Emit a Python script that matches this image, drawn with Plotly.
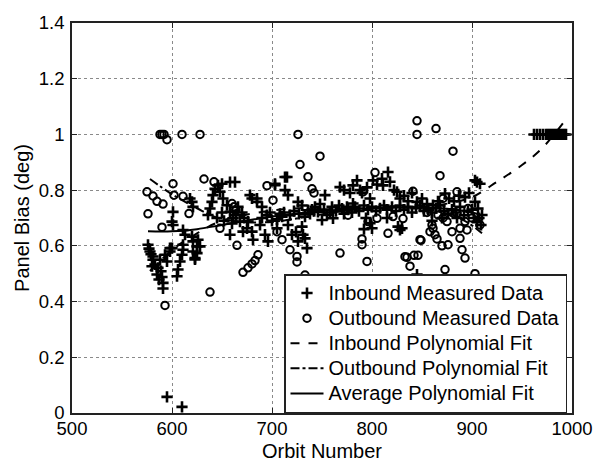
import plotly.graph_objects as go

# ---------------- data ----------------
in_x = [576, 577, 578, 579, 580, 581, 581, 583, 585, 586, 587, 588, 589, 590, 591, 591, 593, 595, 598, 598, 600,
        595, 610,
        600, 601, 601,
        605, 606, 608, 610, 611, 611, 611, 613,
        620, 621, 621, 623, 623, 625, 625, 626, 628,
        620, 621, 618,
        636, 638, 640, 641, 643, 646, 648, 651, 655, 663, 658, 661, 668, 671, 675, 658, 645, 650, 652, 660, 664, 666, 670, 672,
        650, 658,
        678, 685, 685, 703, 715, 713, 716, 726, 730, 753, 768, 772, 778,
        676, 680, 681, 688, 693, 696, 705, 710, 716, 720, 724, 726, 730, 733, 735, 731, 736, 743, 746, 750, 755, 761, 770, 775, 781,
        690, 695, 700, 698, 705, 708, 712, 718, 722, 727, 733, 738, 740, 748, 752, 758, 760, 764, 767, 772, 776, 780,
        680, 690, 713, 703,
        785, 781, 788, 790, 795, 798, 801, 805, 810, 811, 816, 818, 822, 825, 828, 832, 836, 840, 845, 850, 855, 861, 866, 873,
        877, 882, 887, 893, 897, 903, 905, 908,
        783, 787, 792, 796, 800, 804, 808, 812, 815, 820, 824, 828, 832, 836, 840, 844, 848, 852, 856, 860, 864, 868, 872, 876,
        880, 884, 888, 892, 896, 900, 903, 906, 910, 905, 907, 909, 902,
        798, 800, 826, 828, 830, 845, 792, 794, 815, 870, 885, 860,
        962, 965, 968, 971, 974, 976, 978, 980, 982, 984, 986, 988, 990, 992, 994]
in_y = [0.604, 0.59, 0.58, 0.57, 0.527, 0.562, 0.55, 0.533, 0.497, 0.521, 0.479, 0.55, 0.509, 0.488, 0.467, 0.447, 0.568, 0.544, 0.58, 0.592, 0.592,
        0.058, 0.022,
        0.687, 0.722, 0.675,
        0.491, 0.515, 0.544, 0.568, 0.586, 0.604, 0.657, 0.64,
        0.633, 0.616, 0.58, 0.556, 0.551, 0.574, 0.598, 0.622, 0.598,
        0.758, 0.74, 0.77,
        0.711, 0.734, 0.758, 0.782, 0.805, 0.817, 0.794, 0.77, 0.746, 0.829, 0.722, 0.699, 0.687, 0.651, 0.663, 0.64, 0.70, 0.72, 0.69, 0.68, 0.71, 0.74, 0.72, 0.70,
        0.823, 0.829,
        0.782, 0.758, 0.77, 0.823, 0.847, 0.80, 0.782, 0.758, 0.745, 0.782, 0.811, 0.80, 0.79,
        0.687, 0.651, 0.622, 0.675, 0.64, 0.616, 0.663, 0.705, 0.675, 0.64, 0.65, 0.616, 0.669, 0.627, 0.592, 0.64, 0.728, 0.74, 0.722, 0.693, 0.711, 0.699, 0.734, 0.74, 0.752,
        0.70, 0.71, 0.69, 0.72, 0.695, 0.715, 0.72, 0.71, 0.725, 0.715, 0.705, 0.715, 0.73, 0.75, 0.73, 0.72, 0.74, 0.725, 0.745, 0.715, 0.73, 0.72,
        0.77, 0.74, 0.847, 0.818,
        0.835, 0.817, 0.80, 0.79, 0.81, 0.77, 0.835, 0.82, 0.841, 0.817, 0.865, 0.83, 0.80, 0.794, 0.77, 0.78, 0.76, 0.79, 0.758, 0.77, 0.75, 0.746, 0.76, 0.788,
        0.77, 0.76, 0.78, 0.775, 0.79, 0.835, 0.829, 0.823,
        0.74, 0.725, 0.745, 0.73, 0.74, 0.725, 0.735, 0.745, 0.73, 0.74, 0.725, 0.745, 0.73, 0.74, 0.72, 0.735, 0.745, 0.725,
        0.73, 0.72, 0.735, 0.745, 0.725, 0.715,
        0.73, 0.72, 0.74, 0.71, 0.725, 0.73, 0.758, 0.734, 0.711, 0.687, 0.70, 0.675, 0.70,
        0.681, 0.663, 0.669, 0.657, 0.663, 0.497, 0.66, 0.70, 0.70, 0.70, 0.70, 0.69,
        1.0, 1.0, 1.0, 1.0, 1.0, 1.0, 1.0, 1.0, 1.0, 1.0, 1.0, 1.0, 1.0, 1.0, 1.0]

out_x = [575, 576, 581, 585, 591, 590, 593, 588, 590, 592, 595, 610, 628, 601, 602, 611, 617, 632, 642, 638,
         665, 671, 676, 680, 683, 686, 660, 662, 664, 648, 695, 701, 705, 710, 718, 725, 725, 733,
         726, 728, 748, 736, 740, 742, 768, 776, 790, 790, 795, 791, 796, 805, 803, 816, 821, 831,
         833, 838, 842, 846, 849, 841, 845, 845, 864, 868, 881, 885, 871, 875, 861, 863, 880, 893,
         895, 908, 870, 876, 888, 888, 890, 893, 873, 903, 858, 865, 866, 860, 885, 848, 835,
         871, 896, 900, 855, 880]
out_y = [0.794, 0.715, 0.779, 0.76, 0.75, 0.667, 0.386, 1.0, 1.0, 1.0, 0.981, 1.0, 1.0, 0.823, 0.782, 0.778, 0.716, 0.84, 0.83, 0.434,
         0.602, 0.505, 0.521, 0.535, 0.547, 0.568, 0.752, 0.74, 0.728, 0.663, 0.816, 0.764, 0.651, 0.622, 0.586, 0.562, 0.542, 0.495,
         1.0, 0.892, 0.922, 0.848, 0.805, 0.79, 0.574, 0.71, 0.625, 0.604, 0.544, 0.794, 0.687, 0.699, 0.863, 0.645, 0.705, 0.698,
         0.561, 0.527, 0.566, 0.566, 0.62, 0.796, 1.0, 1.049, 1.021, 0.852, 0.94, 0.794, 0.77, 0.687, 0.663, 0.64, 0.651, 0.687,
         0.657, 0.675, 0.60, 0.604, 0.627, 0.663, 0.586, 0.556, 0.515, 0.50, 0.651, 0.625, 0.711, 0.675, 0.716, 0.622, 0.559,
         0.70, 0.734, 0.70, 0.72, 0.72]

in_fit_x = [578, 600, 625, 650, 700, 750, 800, 850, 880, 900, 925, 950, 970, 992]
in_fit_y = [0.51, 0.585, 0.645, 0.69, 0.727, 0.738, 0.737, 0.74, 0.755, 0.775, 0.83, 0.89, 0.95, 1.045]

out_fit_x = [578, 600, 625, 646, 675, 700, 728, 750, 775, 800, 825, 850, 875, 895, 910]
out_fit_y = [0.84, 0.785, 0.735, 0.70, 0.685, 0.686, 0.70, 0.713, 0.728, 0.738, 0.742, 0.735, 0.715, 0.685, 0.645]

avg_fit_x = [576, 600, 625, 650, 700, 750, 800, 850, 875, 900, 910]
avg_fit_y = [0.652, 0.652, 0.66, 0.675, 0.705, 0.725, 0.735, 0.738, 0.733, 0.72, 0.71]

x_ticks = [500, 600, 700, 800, 900, 1000]
y_ticks = [0, 0.2, 0.4, 0.6, 0.8, 1.0, 1.2, 1.4]
y_tick_labels = ["0", "0.2", "0.4", "0.6", "0.8", "1", "1.2", "1.4"]

series_names = ["Inbound Measured Data", "Outbound Measured Data", "Inbound Polynomial Fit",
                "Outbound Polynomial Fit", "Average Polynomial Fit"]

FONT = "Liberation Sans, Arial, Helvetica, sans-serif"


def legend_label(s):
    return '<span style="font-size:20px">' + s + '</span>'


fig = go.Figure()
fig.add_trace(go.Scatter(x=in_x, y=in_y, mode="markers", name=legend_label(series_names[0]),
                         marker=dict(symbol="cross-thin-open", size=8, color="black",
                                     line=dict(color="black", width=2.6))))
fig.add_trace(go.Scatter(x=out_x, y=out_y, mode="markers", name=legend_label(series_names[1]),
                         marker=dict(symbol="circle-open", size=7.5, color="black",
                                     line=dict(color="black", width=2))))
fig.add_trace(go.Scatter(x=in_fit_x, y=in_fit_y, mode="lines", name=legend_label(series_names[2]),
                         line=dict(color="black", width=2, dash="dash", shape="spline")))
fig.add_trace(go.Scatter(x=out_fit_x, y=out_fit_y, mode="lines", name=legend_label(series_names[3]),
                         line=dict(color="black", width=2, dash="dashdot", shape="spline")))
fig.add_trace(go.Scatter(x=avg_fit_x, y=avg_fit_y, mode="lines", name=legend_label(series_names[4]),
                         line=dict(color="black", width=2, shape="spline")))

axis_common = dict(showline=True, linecolor="#222", linewidth=1.5, mirror="allticks",
                   ticks="inside", ticklen=5, tickcolor="#222",
                   showgrid=True, gridcolor="#8a8a8a", gridwidth=1, griddash="dot",
                   zeroline=False,
                   tickfont=dict(family=FONT, size=18.5, color="black"))

fig.update_xaxes(range=[500, 1000], tickvals=x_ticks, automargin=False, ticklabelstandoff=-2,
                 title=dict(text="Orbit Number", font=dict(family=FONT, size=20, color="black")),
                 **axis_common)
fig.update_yaxes(range=[0, 1.4], tickvals=y_ticks, ticktext=y_tick_labels, ticklabelstandoff=2,
                 automargin=True,
                 title=dict(text="Panel Bias (deg)", font=dict(family=FONT, size=20, color="black"),
                            standoff=4),
                 **axis_common)

fig.update_layout(
    width=595, height=462,
    margin=dict(l=72, r=23, t=20, b=49),
    paper_bgcolor="white", plot_bgcolor="white",
    font=dict(family=FONT, size=17, color="black"),
    showlegend=True,
    legend=dict(x=0.99, xanchor="right", y=0.0, yanchor="bottom",
                bgcolor="white", bordercolor="#222", borderwidth=1.5,
                font=dict(family=FONT, size=17, color="black"),
                itemwidth=33),
)

fig.write_html("out.html")
